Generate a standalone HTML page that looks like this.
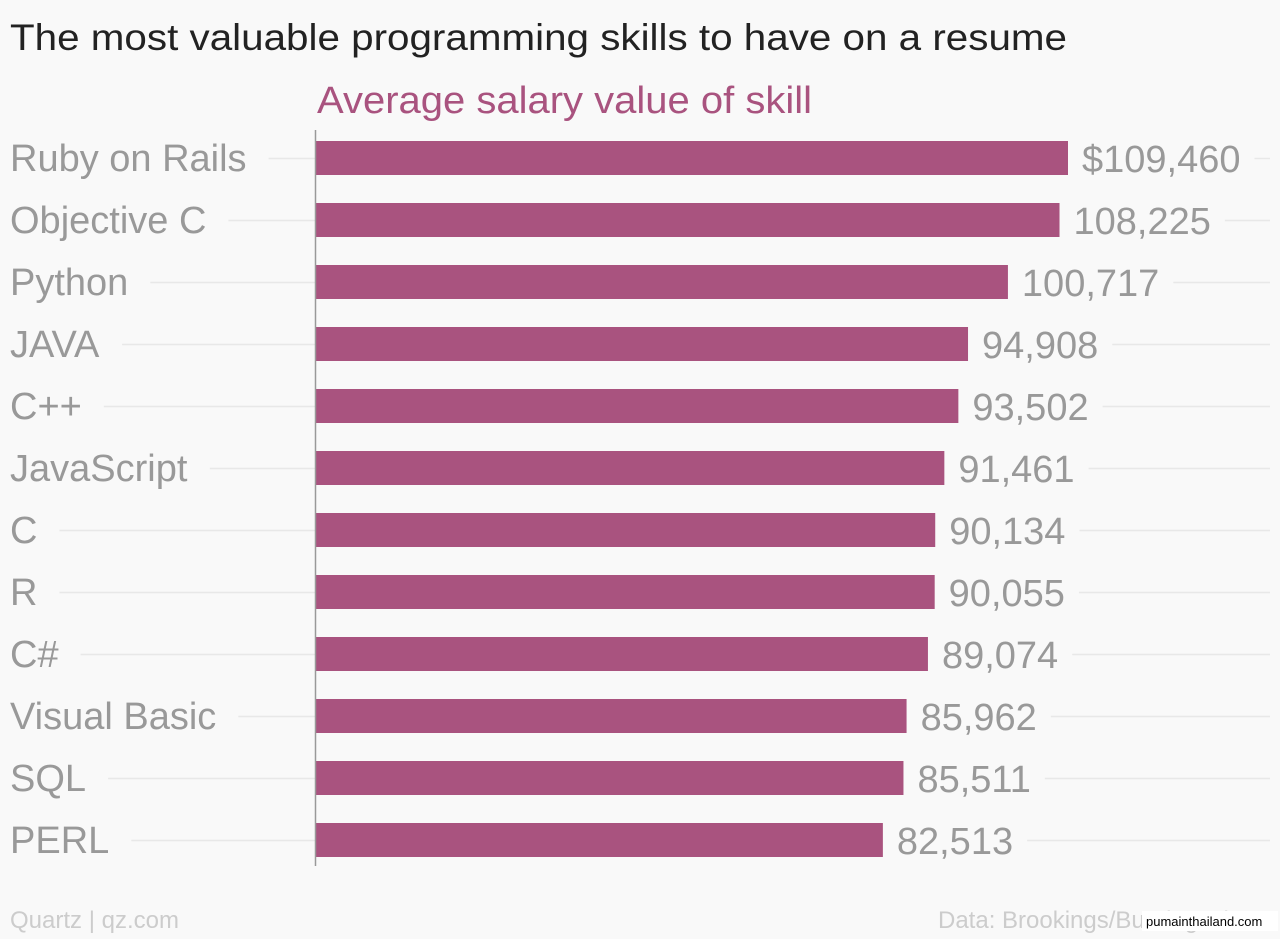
<!DOCTYPE html>
<html><head><meta charset="utf-8"><style>
body{margin:0;background:#f9f9f9;width:1280px;height:934px;overflow:hidden;font-family:"Liberation Sans",sans-serif}
</style></head><body>
<svg id="c" width="1280" height="934">
<rect width="1280" height="934" fill="#f9f9f9"/>
<text x="10" y="50" font-size="37" fill="#222" textLength="1057" lengthAdjust="spacingAndGlyphs">The most valuable programming skills to have on a resume</text>
<text x="317" y="113" font-size="38" fill="#a9537f" textLength="495" lengthAdjust="spacingAndGlyphs">Average salary value of skill</text>
<g id="grid"></g><g id="bars"></g>
<line x1="315.5" y1="130" x2="315.5" y2="866" stroke="#999" stroke-width="1.5"/>
<text x="10" y="928" font-size="24" fill="#ccc">Quartz | qz.com</text>
<text x="938" y="928" font-size="24" fill="#ccc">Data: Brookings/Burning Glass</text>
<rect x="1142" y="911" width="136" height="20" fill="#fff"/>
<text x="1146" y="926" font-size="13" fill="#000">pumainthailand.com</text>
</svg>
<script>
const categories=["Ruby on Rails","Objective C","Python","JAVA","C++","JavaScript","C","R","C#","Visual Basic","SQL","PERL"];
const values=[109460,108225,100717,94908,93502,91461,90134,90055,89074,85962,85511,82513];
const labels=["$109,460","108,225","100,717","94,908","93,502","91,461","90,134","90,055","89,074","85,962","85,511","82,513"];
const ns="http://www.w3.org/2000/svg";
const x0=316,xs=752/109460;
const xScale=v=>v*xs;
const yScale=i=>158+i*62;
const grid=document.getElementById('grid'),bars=document.getElementById('bars');
function mk(tag,attrs,parent){const e=document.createElementNS(ns,tag);for(const k in attrs)e.setAttribute(k,attrs[k]);parent.appendChild(e);return e;}
categories.forEach((c,i)=>{
 const y=yScale(i);
 const t=mk('text',{x:10,y:y+13,'font-size':38,fill:'#999'},bars);
 t.textContent=c;
 
 
 const bb=t.getBBox();
 const w=xScale(values[i]);
 const v=mk('text',{x:x0+w+14,y:y+14,'font-size':38,fill:'#999'},bars);
 v.textContent=labels[i];
 
 
 const vb=v.getBBox();
 const g1=mk('line',{x1:bb.x+bb.width+22,x2:x0,y1:y+0.5,y2:y+0.5,stroke:'#e8e8e8','stroke-width':1.5},grid);
 
 
 const g2=mk('line',{x1:vb.x+vb.width+14,x2:1270,y1:y+0.5,y2:y+0.5,stroke:'#e8e8e8','stroke-width':1.5},grid);
 
 
 const r=mk('rect',{x:x0,y:y-17,width:w,height:34,fill:'#a9537f'},bars);
 
 
});
</script>
</body></html>
